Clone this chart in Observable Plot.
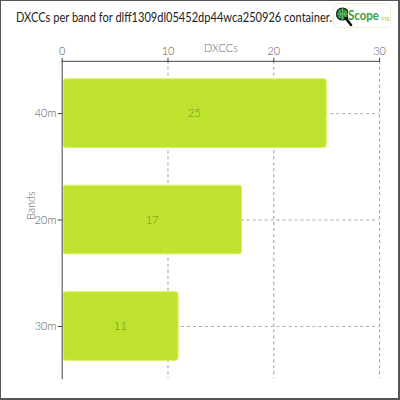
<!DOCTYPE html>
<html>
<head>
<meta charset="utf-8">
<script src="https://cdn.jsdelivr.net/npm/d3@7"></script>
<script src="https://cdn.jsdelivr.net/npm/@observablehq/plot@0.6"></script>
<style>
  html, body { margin: 0; padding: 0; background: #fff; }
  #wrap { position: relative; width: 400px; height: 400px; box-sizing: border-box;
          border-left: 1px solid #555; border-top: 1px solid #555; border-right: 2px solid #555; border-bottom: 2px solid #555;
          font-family: Lato, "Open Sans", sans-serif; overflow: hidden; }
  #title { position: absolute; left: 15px; top: 9px; font-size: 13px; line-height: 15px; color: #222; white-space: nowrap; transform-origin: 0 50%; }
  #logo { position: absolute; left: 332px; top: 2px; width: 58px; height: 25px; box-sizing: border-box;
          border: 1px solid #eef3d8; border-radius: 4px; background: #fff; }
  #scope { position: absolute; left: 14px; top: 3px; font-size: 14px; line-height: 16px; font-weight: 700; color: #3aa040; white-space: nowrap; transform-origin: 0 50%; }
  #org { position: absolute; left: 46px; top: 11px; font-size: 5.5px; line-height: 6px; color: #9acd6a; white-space: nowrap; }
  #chart { position: absolute; left: -1px; top: 29px; }
</style>
</head>
<body>
<div id="wrap">
  <div id="title">DXCCs per band for dlff1309dl05452dp44wca250926 container.</div>
  <div id="logo">
    <svg width="14" height="25" style="position:absolute;left:0;top:0">
      <line x1="12" y1="14" x2="17" y2="21" stroke="#111" stroke-width="2.5" stroke-linecap="round"/>
      <circle cx="8.5" cy="10" r="6" fill="#2a8a3a" stroke="#111" stroke-width="1.2"/>
      <path d="M2.5 10 H14.5 M8.5 4 V16 M4.5 6 Q8.5 10 4.5 14 M12.5 6 Q8.5 10 12.5 14" stroke="#8fd08f" stroke-width="0.6" fill="none"/>
    </svg>
    <svg width="10" height="10" style="position:absolute;left:10px;top:13px">
      <line x1="1" y1="0" x2="7" y2="8" stroke="#111" stroke-width="2.5" stroke-linecap="round"/>
    </svg>
    <span id="scope">Scope</span>
    <span id="org">.org</span>
  </div>
  <div id="chart"></div>
</div>
<script>
function fitWidth(el, w) {
  const natural = el.getBoundingClientRect().width;
  el.style.transform = `scaleX(${w / natural})`;
}
fitWidth(document.getElementById("title"), 316);
fitWidth(document.getElementById("scope"), 31);

const bands = ["40m", "20m", "30m"];
const dxccs = [25, 17, 11];
const xTicks = [0, 10, 20, 30];

const data = bands.map((b, i) => ({band: b, value: dxccs[i]}));

const chart = Plot.plot({
  width: 400,
  height: 371,
  marginTop: 31,
  marginLeft: 62,
  marginRight: 19,
  marginBottom: 21,
  style: {fontFamily: "Lato, 'Open Sans', sans-serif", fontSize: "11px", fontWeight: 300, color: "#444", background: "transparent"},
  x: {domain: [0, 30], ticks: xTicks, label: null},
  y: {domain: bands, padding: 0, range: [30, 351], label: null},
  marks: [
    Plot.gridX(xTicks.slice(1), {stroke: "#999", strokeOpacity: 1, strokeDasharray: "3,3"}),
    Plot.gridY(bands, {stroke: "#aaa", strokeOpacity: 1, strokeDasharray: "3,3"}),
    Plot.barX(data, {x: "value", y: "band", fill: "#bfe22f", stroke: "#d6f25c", strokeWidth: 1,
      rx: 2.5, insetTop: 19, insetBottom: 19, insetLeft: 1.5}),
    Plot.text(data, {x: d => d.value / 2, y: "band", text: d => String(d.value), fill: "#6b8f2a", fontSize: 11}),
    Plot.axisX(xTicks, {anchor: "top", tickSize: 4, tickPadding: 2, label: null, fill: "#555", stroke: "#444"}),
    Plot.axisY(bands, {anchor: "left", tickSize: 4, tickPadding: 2, label: null, fill: "#555", stroke: "#444"}),
    Plot.frame({anchor: "top", stroke: "#444"}),
    Plot.frame({anchor: "left", stroke: "#444"}),
    Plot.text(["DXCCs"], {frameAnchor: "top", dy: -17, fill: "#666", fontSize: 11}),
    Plot.text(["Bands"], {frameAnchor: "left", dx: -31, rotate: -90, fill: "#555", fontSize: 11})
  ]
});
document.getElementById("chart").appendChild(chart);
</script>
</body>
</html>
